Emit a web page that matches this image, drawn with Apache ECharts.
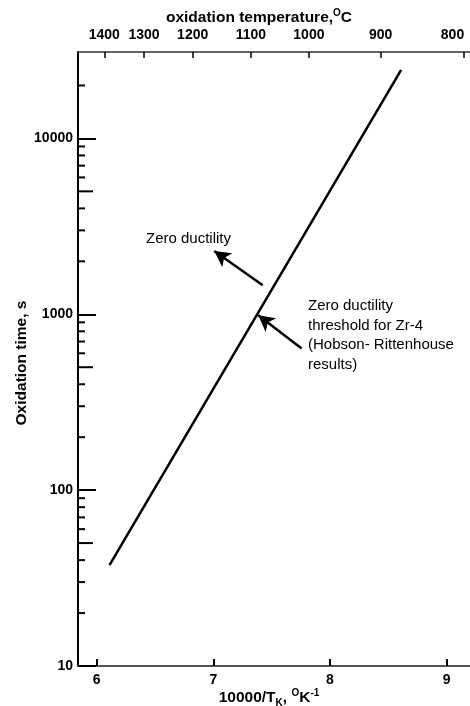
<!DOCTYPE html>
<html>
<head>
<meta charset="utf-8">
<script src="https://cdn.jsdelivr.net/npm/echarts@6/dist/echarts.min.js"></script>
<style>
  html, body { margin: 0; padding: 0; background: #fff; }
  #chart { width: 470px; height: 706px; }
</style>
</head>
<body>
<div id="chart"></div>
<script>
// Reciprocal temperature, 10000/T (K^-1)
const X_MIN = 5.84;
const X_MAX = 9.2;
const reciprocalTicks = [6, 7, 8, 9];

// Oxidation temperature scale (°C) along the top, placed at its reciprocal positions
const temperatureLabels = ['1400', '1300', '1200', '1100', '1000', '900', '800'];
const temperatureTickX = [6.065, 6.406, 6.823, 7.322, 7.819, 8.434, 9.150];

// Oxidation time (s), logarithmic
const TIME_MIN = 10;
const TIME_MAX = 31000;
const timeMinorTicks = [
  20, 30, 40, 50, 60, 70, 80, 90,
  200, 300, 400, 500, 600, 700, 800, 900,
  2000, 3000, 4000, 5000, 6000, 7000, 8000, 9000,
  20000
];

// Zero ductility threshold for Zr-4 (Hobson-Rittenhouse)
const thresholdX = [6.11, 8.61];
const thresholdTime = [37.5, 24500];

// Annotation arrows: tail -> head, in axis units
const arrowTailX = [7.423, 7.757];
const arrowTailTime = [1461, 638];
const arrowHeadX = [7.008, 7.385];
const arrowHeadTime = [2290, 987];

const FONT = '"Liberation Sans", Arial, sans-serif';

const chart = echarts.init(document.getElementById('chart'), null, { renderer: 'canvas' });

function nearestIndex(list, v) {
  let best = 0;
  for (let i = 1; i < list.length; i++) {
    if (Math.abs(list[i] - v) < Math.abs(list[best] - v)) best = i;
  }
  return best;
}

const tickLabelStyle = {
  color: '#000',
  fontFamily: FONT,
  fontWeight: 'bold',
  fontSize: 14
};

const supRich = {
  b: { fontFamily: FONT, fontWeight: 'bold', fontSize: 15.5, lineHeight: 20, color: '#000' },
  sup: { fontFamily: FONT, fontWeight: 'bold', fontSize: 10, lineHeight: 10, verticalAlign: 'top', color: '#000' },
  sub: { fontFamily: FONT, fontWeight: 'bold', fontSize: 10, lineHeight: 10, verticalAlign: 'bottom', color: '#000' }
};

chart.setOption({
  animation: false,
  backgroundColor: '#fff',
  grid: { left: 78, right: 0, top: 52, bottom: 40, containLabel: false },
  xAxis: [
    {
      type: 'value',
      position: 'bottom',
      min: X_MIN,
      max: X_MAX,
      axisLine: { onZero: false, lineStyle: { color: '#555', width: 2 } },
      axisTick: { inside: true, length: 7, customValues: reciprocalTicks, lineStyle: { color: '#000', width: 2 } },
      axisLabel: Object.assign({ customValues: reciprocalTicks, margin: 7 }, tickLabelStyle),
      splitLine: { show: false }
    },
    {
      type: 'value',
      position: 'top',
      min: X_MIN,
      max: X_MAX,
      axisLine: { onZero: false, lineStyle: { color: '#333', width: 1.5 } },
      axisTick: { inside: true, length: 6, customValues: temperatureTickX, lineStyle: { color: '#000', width: 1.5 } },
      axisLabel: Object.assign({
        customValues: temperatureTickX,
        margin: 10,
        alignMaxLabel: 'right',
        formatter: (v) => temperatureLabels[nearestIndex(temperatureTickX, v)]
      }, tickLabelStyle),
      splitLine: { show: false }
    }
  ],
  yAxis: {
    type: 'log',
    logBase: 10,
    min: TIME_MIN,
    max: TIME_MAX,
    axisLine: { show: true, onZero: false, lineStyle: { color: '#000', width: 2 } },
    axisTick: { inside: true, length: 18, lineStyle: { color: '#000', width: 2 } },
    axisLabel: Object.assign({
      margin: 5,
      showMaxLabel: false,
      formatter: (v) => String(Math.round(v))
    }, tickLabelStyle),
    splitLine: { show: false }
  },
  series: [
    {
      // intermediate decade ticks on the time axis (longer at 5x)
      type: 'custom',
      xAxisIndex: 0,
      yAxisIndex: 0,
      silent: true,
      clip: false,
      data: timeMinorTicks.map((t) => [X_MIN, t]),
      encode: { x: 0, y: 1 },
      renderItem: (params, api) => {
        const t = api.value(1);
        const p = api.coord([X_MIN, t]);
        const mant = t / Math.pow(10, Math.floor(Math.log10(t) + 1e-9));
        const len = Math.abs(mant - 5) < 1e-6 ? 15 : 7;
        return {
          type: 'line',
          shape: { x1: p[0], y1: p[1], x2: p[0] + len, y2: p[1] },
          style: { stroke: '#000', lineWidth: 2 }
        };
      }
    },
    {
      type: 'line',
      xAxisIndex: 0,
      yAxisIndex: 0,
      silent: true,
      symbol: 'none',
      data: thresholdX.map((x, i) => [x, thresholdTime[i]]),
      lineStyle: { color: '#000', width: 2.5 },
      markLine: {
        silent: true,
        symbol: ['none', 'arrow'],
        symbolSize: [13, 16],
        label: { show: false },
        emphasis: { disabled: true },
        lineStyle: { color: '#000', width: 2.5, type: 'solid' },
        data: arrowTailX.map((x, i) => [
          { coord: [x, arrowTailTime[i]] },
          { coord: [arrowHeadX[i], arrowHeadTime[i]] }
        ])
      }
    }
  ],
  graphic: [
    {
      type: 'text',
      x: 259,
      y: 18,
      style: {
        text: '{b|oxidation temperature,}{sup|O}{b|C}',
        rich: supRich,
        align: 'center',
        verticalAlign: 'middle'
      }
    },
    {
      type: 'text',
      x: 269,
      y: 698,
      style: {
        text: '{b|10000/T}{sub|K}{b|, }{sup|O}{b|K}{sup|-1}',
        rich: supRich,
        align: 'center',
        verticalAlign: 'middle'
      }
    },
    {
      type: 'text',
      x: 21.5,
      y: 363,
      rotation: Math.PI / 2,
      style: {
        text: 'Oxidation time, s',
        font: 'bold 15.5px ' + FONT,
        fill: '#000',
        align: 'center',
        verticalAlign: 'middle'
      }
    },
    {
      type: 'text',
      x: 146,
      y: 239,
      style: {
        text: 'Zero ductility',
        font: '15px ' + FONT,
        fill: '#000',
        align: 'left',
        verticalAlign: 'middle'
      }
    },
    {
      type: 'text',
      x: 308,
      y: 296,
      style: {
        text: 'Zero ductility\nthreshold for Zr-4\n(Hobson- Rittenhouse\nresults)',
        font: '15px ' + FONT,
        lineHeight: 19.7,
        fill: '#000',
        align: 'left',
        verticalAlign: 'top'
      }
    }
  ]
});
</script>
</body>
</html>
